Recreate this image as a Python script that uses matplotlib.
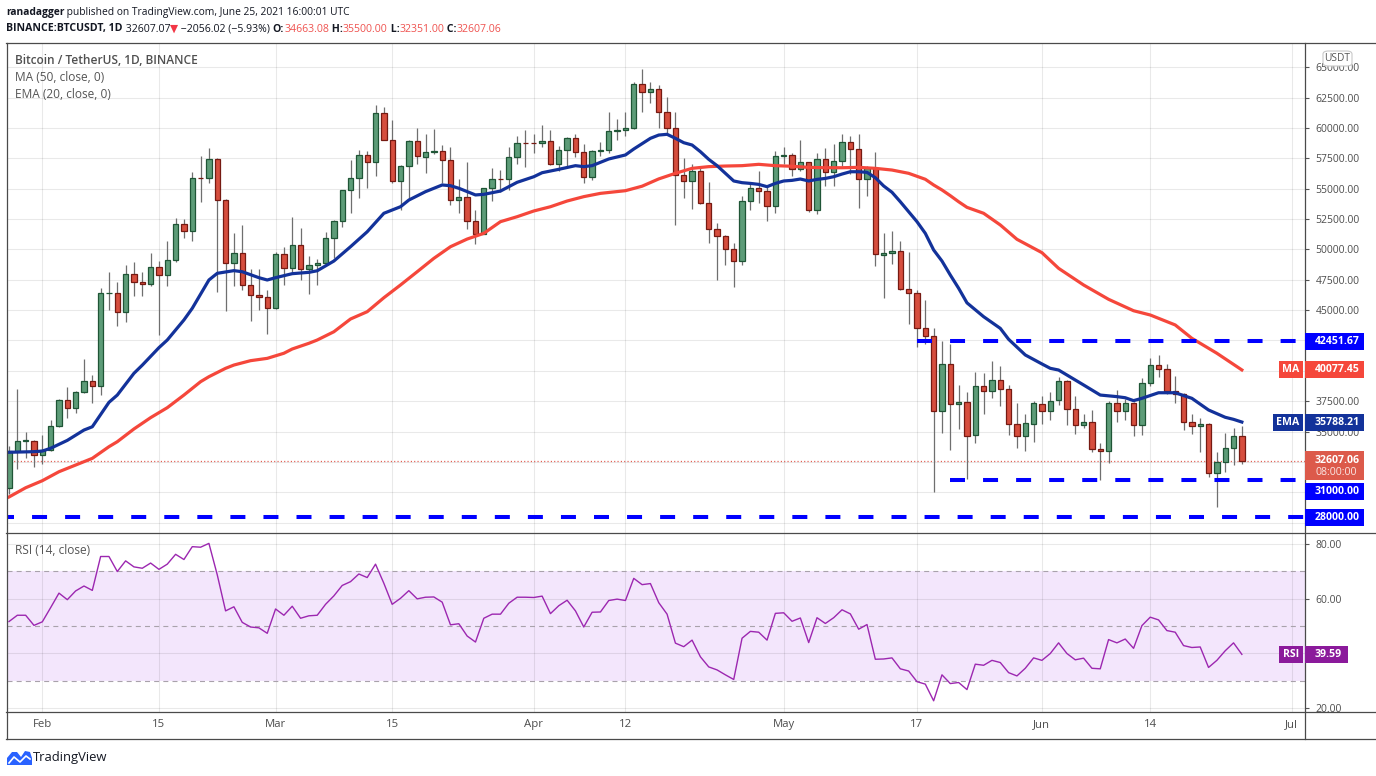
import matplotlib
matplotlib.use("Agg")
import matplotlib.pyplot as plt
import matplotlib.dates as mdates
from matplotlib.lines import Line2D
from matplotlib.patches import Rectangle, FancyBboxPatch, Polygon
import numpy as np
import pandas as pd

plt.rcParams["font.family"] = ["Open Sans", "DejaVu Sans"]
plt.rcParams["lines.scale_dashes"] = False

W, H = 1376, 776

# BINANCE:BTCUSDT daily candles
first_day = "2021-01-28"
opens = [30366, 33368, 34246, 34262, 33092, 33518, 35466, 37619, 36937, 38290,
         39181, 38795, 46374, 46421, 44807, 47969, 47298, 47156, 48580, 47911,
         49133, 52117, 51552, 55906, 55842, 57412, 54087, 48891, 49677, 47063,
         46277, 46104, 45134, 49596, 48436, 50349, 48375, 48747, 48882, 50959,
         52375, 54874, 55852, 57774, 57221, 61188, 58976, 55605, 56900, 58912,
         57641, 58031, 58101, 57352, 54083, 54343, 52304, 51293, 55026, 55818,
         55782, 57635, 58746, 58739, 58721, 58951, 57049, 58203, 59129, 57991,
         55953, 58077, 58143, 59770, 59860, 59965, 63576, 62960, 63159, 61334,
         60001, 56150, 55634, 56425, 53788, 51691, 51111, 50047, 49004, 54021,
         55034, 54824, 53555, 57697, 57797, 56578, 57169, 53200, 57436, 56393,
         57315, 58866, 58240, 55817, 56670, 49537, 49672, 49841, 46708, 46427,
         43539, 42850, 36671, 40526, 37253, 37459, 34681, 38796, 38325, 39241,
         38529, 35661, 34606, 35659, 37293, 36687, 37569, 39180, 36851, 35520,
         35797, 33557, 33380, 37388, 36677, 37331, 35546, 39021, 40516, 40143,
         38349, 38092, 35820, 35484, 35601, 31614, 32510, 33676, 34663.08]
highs = [33783, 38531, 34934, 34342, 34717, 35984, 37662, 38708, 38310, 40955,
         39700, 46794, 48142, 47310, 48678, 48985, 48150, 49707, 49010, 50690,
         52618, 52530, 56368, 57700, 58352, 57508, 54183, 51374, 52041, 48424,
         48394, 46638, 49790, 50200, 52640, 51773, 49448, 49200, 51450, 52402,
         54895, 57387, 58150, 58058, 61845, 61700, 60633, 56938, 58982, 60000,
         59468, 59880, 58591, 58430, 55830, 57200, 53229, 55073, 56700, 56559,
         58400, 59368, 59800, 59490, 60200, 59791, 58500, 59272, 59500, 58650,
         58153, 58869, 61300, 60700, 61300, 63777, 64854, 63800, 63520, 62506,
         61287, 57526, 57040, 56757, 55521, 52130, 51166, 50555, 54357, 55452,
         56428, 55200, 58075, 58458, 57911, 58981, 57200, 57963, 58360, 58650,
         59500, 59300, 59500, 56862, 58000, 51367, 51483, 50700, 49800, 46650,
         45800, 43547, 42451.67, 42200, 38856, 38270, 39920, 39791, 40841, 40411,
         38877, 37338, 36488, 37499, 37894, 38226, 39476, 39289, 37925, 36481,
         36790, 34068, 37531, 38392, 37681, 37463, 39380, 41064, 41330, 40527,
         39559, 38202, 36457, 36137, 35750, 33298, 34881, 35298, 35500.00]
lows = [29842, 31915, 32825, 32054, 32296, 33418, 35362, 36161, 36570, 38215,
        37351, 37988, 45000, 43727, 43994, 46125, 46202, 47014, 42960, 47003,
        48947, 50901, 50710, 53863, 55477, 46500, 44892, 47003, 46674, 44108,
        45000, 43000, 45115, 47047, 48100, 47500, 46300, 47070, 48882, 49274,
        51834, 53005, 54269, 55013, 56078, 58966, 55450, 53272, 54124, 57024,
        56270, 57820, 55450, 53650, 53000, 51700, 50427, 51225, 53967, 54691,
        54900, 57000, 56769, 57935, 58428, 56950, 56478, 56800, 57600, 55473,
        55700, 57654, 57900, 59000, 59350, 59869, 61301, 62020, 60000, 59581,
        52000, 54221, 53329, 53695, 50500, 47500, 48753, 46930, 48753, 53222,
        53813, 52330, 53013, 57000, 56035, 56435, 53046, 52900, 55200, 55241,
        56900, 56235, 53400, 54370, 48600, 46000, 48800, 46650, 43825, 42001,
        42250, 30000, 34850, 33488, 35200, 31111, 34031, 36419, 37800, 37134,
        34684, 33632, 33379, 34153, 35666, 35920, 37170, 35555, 34800, 35259,
        33350, 31000, 32397, 35782, 35937, 34600, 34757, 38730, 39506, 38116,
        37365, 35129, 34803, 33337, 31251, 28805, 31683, 32286, 32351.00]
closes = [33364, 34252, 34262, 33092, 33526, 35466, 37618, 36936, 38290, 39186,
          38795, 46374, 46420, 44807, 47969, 47287, 47153, 48577, 47911, 49133,
          52119, 51552, 55906, 55841, 57408, 54087, 48891, 49676, 47073, 46276,
          46106, 45135, 49587, 48440, 50349, 48374, 48751, 48882, 50971, 52376,
          54884, 55851, 57773, 57221, 61188, 58968, 55605, 56900, 58912, 57648,
          58030, 58102, 57351, 54083, 54340, 52303, 51293, 55025, 55817, 55777,
          57635, 58746, 58740, 58720, 58950, 57051, 58202, 59129, 57991, 55953,
          58077, 58142, 59769, 59860, 59964, 63576, 62959, 63159, 61334, 60006,
          56150, 55633, 56425, 53787, 51690, 51125, 50047, 49004, 54021, 55033,
          54824, 53555, 57697, 57798, 56578, 57169, 53200, 57436, 56393, 57314,
          58862, 58240, 55816, 56670, 49631, 49670, 49841, 46708, 46426, 43538,
          42850, 36690, 40526, 37252, 37449, 34655, 38796, 38324, 39241, 38529,
          35664, 34606, 35678, 37332, 36685, 37555, 39187, 36851, 35520, 35797,
          33552, 33380, 37388, 36675, 37331, 35546, 39020, 40516, 40144, 38349,
          38092, 35819, 35483, 35600, 31608, 32509, 33678, 34663, 32607.06]

# indicator values (day index -> value)
ema_days = [0, 3, 4, 5, 7, 9, 10, 12, 13, 15, 16, 18, 19, 21, 22, 24, 25, 27, 28, 30,
            31, 32, 34, 36, 37, 39, 41, 43, 45, 47, 48, 50, 52, 53, 54, 56, 57, 59, 61, 63,
            64, 66, 68, 69, 70, 72, 74, 75, 76, 77, 78, 79, 80, 81, 82, 83, 84, 85, 86, 87,
            88, 89, 90, 91, 92, 93, 94, 95, 96, 97, 98, 99, 100, 101, 102, 103, 104, 105, 106, 107,
            108, 109, 110, 111, 112, 113, 114, 115, 117, 119, 120, 122, 124, 125, 126, 128, 129, 131, 133, 134,
            135, 136, 138, 140, 142, 144, 146, 147, 148]
ema_vals = [33300, 33350, 33400, 33630, 34280, 35130, 35400, 37410, 38010, 39800,
            40470, 41910, 42540, 44190, 45150, 47480, 48030, 48250, 48160, 47670,
            47480, 47670, 48000, 48110, 48240, 49040, 50220, 51450, 52970, 53510,
            54060, 54750, 55300, 55240, 55030, 54480, 54530, 54800, 55520, 55980,
            56310, 56590, 56890, 56810, 56890, 57440, 57770, 58260, 58700, 59140,
            59410, 59470, 59140, 58780, 58590, 58040, 57410, 56890, 56260, 55630,
            55490, 55430, 55350, 55160, 55430, 55630, 55680, 55790, 55630, 55760,
            55840, 55980, 56200, 56390, 56390, 56340, 55900, 55220, 54700, 53920,
            53100, 52280, 51320, 49950, 49040, 47890, 46800, 45600, 44460, 43500,
            42600, 41310, 40570, 40210, 40070, 39250, 38840, 38010, 37880, 37790,
            37550, 37740, 38200, 38200, 37740, 36780, 36180, 36010, 35788.21]
ma_days = [0, 2, 4, 6, 8, 10, 12, 13, 15, 17, 19, 21, 23, 24, 26, 27, 29, 31, 33, 34,
           36, 37, 39, 41, 43, 45, 47, 49, 51, 53, 55, 57, 59, 61, 63, 65, 67, 69, 71, 74,
           76, 78, 80, 82, 84, 86, 88, 90, 92, 94, 96, 98, 100, 102, 104, 106, 108, 110, 111, 112,
           113, 114, 115, 117, 119, 121, 124, 126, 129, 132, 135, 137, 140, 142, 145, 148]
ma_vals = [29620, 30380, 30960, 31700, 32250, 32800, 33760, 34170, 35220, 36150,
           36970, 38010, 39110, 39520, 40210, 40480, 40840, 41030, 41450, 41800,
           42270, 42540, 43220, 44270, 44870, 46020, 47070, 48160, 49260, 50220,
           50850, 51320, 52280, 52690, 53160, 53510, 53980, 54340, 54610, 54830,
           55200, 55800, 56260, 56670, 56810, 56860, 56890, 57000, 56890, 56840,
           56750, 56720, 56720, 56750, 56670, 56530, 56260, 55770, 55300, 54890,
           54420, 53920, 53460, 52970, 52010, 50830, 49730, 48440, 47070, 45890,
           44950, 44600, 43780, 42680, 41450, 40077.45]

rsi = [51.6, 53.9, 53.9, 50.2, 51.5, 56.7, 62.0, 59.6, 62.8, 64.6,
       63.0, 75.4, 75.4, 69.9, 73.8, 71.6, 71.1, 73.0, 70.7, 72.6,
       76.2, 74.3, 79.0, 78.8, 80.2, 68.7, 55.5, 57.0, 51.3, 49.6,
       49.3, 47.3, 56.2, 53.9, 57.2, 52.8, 53.7, 53.9, 57.9, 61.0,
       64.8, 66.2, 69.0, 67.7, 72.6, 65.6, 57.9, 60.1, 62.9, 59.9,
       60.5, 60.6, 58.7, 50.4, 50.8, 46.3, 44.1, 52.8, 54.3, 54.3,
       58.3, 60.5, 60.5, 60.4, 60.9, 54.5, 57.4, 59.4, 55.5, 49.6,
       55.0, 55.1, 59.3, 59.8, 59.3, 67.4, 65.1, 65.5, 58.5, 54.3,
       43.7, 42.4, 44.8, 38.7, 35.0, 33.9, 32.1, 30.4, 45.5, 48.0,
       47.7, 44.8, 54.6, 54.8, 51.7, 52.9, 43.9, 53.0, 50.9, 53.0,
       55.9, 54.4, 48.8, 50.5, 37.8, 37.9, 38.3, 34.3, 33.5, 29.6,
       28.7, 22.6, 32.1, 28.9, 29.3, 26.7, 36.0, 35.6, 37.4, 36.6,
       32.9, 31.7, 34.5, 38.3, 37.4, 39.9, 43.8, 39.9, 37.6, 38.2,
       34.5, 34.3, 45.0, 43.8, 45.2, 41.8, 50.1, 53.2, 52.2, 48.3,
       47.7, 42.8, 42.1, 42.3, 34.8, 37.4, 40.9, 43.8, 39.59]

# horizontal levels drawn on the chart
level_prices = [42451.67, 31000.0, 28000.0]
level_from = ["2021-05-17", "2021-05-21", "2021-01-01"]

price_ticks = [27500, 30000, 32500, 35000, 37500, 40000, 42500, 45000, 47500,
               50000, 52500, 55000, 57500, 60000, 62500, 65000]
hidden_ticks = [27500, 30000, 32500, 40000, 42500]   # sit under the price tags
rsi_ticks = [20, 40, 60, 80]

tick_dates = ["2021-02-01", "2021-02-15", "2021-03-01", "2021-03-15", "2021-04-01",
              "2021-04-12", "2021-05-01", "2021-05-17", "2021-06-01", "2021-06-14", "2021-07-01"]
tick_labels = ["Feb", "15", "Mar", "15", "Apr", "12", "May", "17", "Jun", "14", "Jul"]

up_fill, up_edge = "#5d9c78", "#1f5536"
dn_fill, dn_edge = "#d64e3e", "#761a12"
ma_color = "#f5473b"
ema_color = "#13329a"
rsi_color = "#9c27b0"
level_color = "#0000ff"
axis_text = "#4d4d4d"
dark = "#131722"

o = np.array(opens, float)
h = np.array(highs, float)
l = np.array(lows, float)
c = np.array(closes, float)
dates = pd.date_range(first_day, periods=len(c), freq="D")
xd = mdates.date2num(dates)

fig = plt.figure(figsize=(W / 100, H / 100), dpi=100)


def box(x0, y0, x1, y1):
    return [x0 / W, 1 - y1 / H, (x1 - x0) / W, (y1 - y0) / H]


ax = fig.add_axes(box(7, 43, 1305, 533))
axr = fig.add_axes(box(7, 533, 1305, 712), sharex=ax)

x_left = xd[0] - 0.24
x_right = xd[0] + 155.58
ax.set_xlim(x_left, x_right)
ax.set_ylim(26656, 66986)
axr.set_ylim(18.5, 84.0)

# candles
up = c >= o
body_lo = np.minimum(o, c)
body_h = np.maximum(np.abs(c - o), 40)
ax.vlines(xd, l, h, color="#6f6f6f", lw=0.9, zorder=2)
ax.bar(xd[up], body_h[up], bottom=body_lo[up], width=0.64, color=up_fill,
       edgecolor=up_edge, linewidth=0.9, zorder=3)
ax.bar(xd[~up], body_h[~up], bottom=body_lo[~up], width=0.64, color=dn_fill,
       edgecolor=dn_edge, linewidth=0.9, zorder=3)

ax.plot(xd[ma_days], ma_vals, color=ma_color, lw=2.3, zorder=4)
ax.plot(xd[ema_days], ema_vals, color=ema_color, lw=2.3, zorder=4)

ax.axhline(c[-1], color="#e0574b", lw=0.9, ls=(0, (0.8, 1.6)), zorder=1.5)

for lvl, start in zip(level_prices, level_from):
    ax.hlines(lvl, mdates.datestr2num(start), x_right + 5, colors=level_color,
              lw=2.9, linestyles=[(0, (10.8, 13.0))], zorder=5)

# RSI pane
axr.axhspan(30, 70, color="#f3e6fc", zorder=0, lw=0)
for v in (30, 50, 70):
    axr.axhline(v, color="#a9a2ab", lw=0.8, ls=(0, (3.6, 3.0)), zorder=1)
axr.plot(xd, rsi, color=rsi_color, lw=1.0, zorder=3)

tick_x = mdates.datestr2num(tick_dates)
for a in (ax, axr):
    a.set_xticks(tick_x)
    for s in a.spines.values():
        s.set_visible(False)
    a.yaxis.tick_right()
    a.tick_params(axis="both", grid_color="black", grid_alpha=0.085, grid_linewidth=0.8)
    a.tick_params(axis="y", direction="out", length=3, width=0.8, color="#555555",
                  pad=4.5, labelsize=7.5, labelcolor=axis_text)
    a.grid(True)
    a.set_axisbelow(True)

ax.set_yticks(price_ticks)
ax.set_yticklabels(["" if v in hidden_ticks else f"{v:.2f}" for v in price_ticks])
ax.tick_params(axis="x", length=0, labelbottom=False)
axr.set_yticks(rsi_ticks)
axr.set_yticklabels(["" if v == 40 else f"{v:.2f}" for v in rsi_ticks])
axr.set_xticklabels(tick_labels)
axr.tick_params(axis="x", length=0, pad=5, labelsize=8.2, labelcolor=axis_text)


# frame
def hline(y, x0=6, x1=1375):
    fig.add_artist(Line2D([x0 / W, x1 / W], [1 - y / H, 1 - y / H], color="#4a4a4a", lw=0.9))


def vline(x, y0=43, y1=739):
    fig.add_artist(Line2D([x / W, x / W], [1 - y0 / H, 1 - y1 / H], color="#4a4a4a", lw=0.9))


for yy in (43, 533, 712, 739):
    hline(yy)
vline(6.5)
vline(1305)


# right-hand price tags
def ypx(a, v):
    return H - a.transData.transform((xd[0], v))[1]


def tag(y, text, bg, x0=1305, x1=1364, hh=17, label=None, lx0=None):
    fig.add_artist(Rectangle((x0 / W, 1 - (y + hh / 2) / H), (x1 - x0) / W, hh / H,
                             transform=fig.transFigure, facecolor=bg, lw=0, zorder=6))
    fig.text((x0 + 10) / W, 1 - y / H, text, color="white", fontsize=7.6,
             fontweight="bold", va="center", ha="left", zorder=7)
    if label:
        fig.add_artist(Rectangle((lx0 / W, 1 - (y + hh / 2) / H), (1303 - lx0) / W, hh / H,
                                 transform=fig.transFigure, facecolor=bg, lw=0, zorder=6))
        fig.text((lx0 + 1303) / 2 / W, 1 - y / H, label, color="white", fontsize=7.6,
                 fontweight="bold", va="center", ha="center", zorder=7)


tag(ypx(ax, level_prices[0]), f"{level_prices[0]:.2f}", level_color)
tag(ypx(ax, ma_vals[-1]), f"{ma_vals[-1]:.2f}", ma_color, label="MA", lx0=1279)
tag(ypx(ax, ema_vals[-1]), f"{ema_vals[-1]:.2f}", ema_color, label="EMA", lx0=1273)

yc = ypx(ax, c[-1])
fig.add_artist(Rectangle((1305 / W, 1 - (yc + 19.5) / H), 59 / W, 29 / H,
                         transform=fig.transFigure, facecolor="#dc5a4b", lw=0, zorder=6))
fig.text(1315 / W, 1 - yc / H, f"{c[-1]:.2f}", color="white", fontsize=7.6,
         fontweight="bold", va="center", ha="left", zorder=7)
fig.text(1315 / W, 1 - (yc + 12) / H, "08:00:00", color=(1, 1, 1, 0.85), fontsize=7.6,
         va="center", ha="left", zorder=7)
tag(yc + 31, f"{level_prices[1]:.2f}", level_color)
tag(ypx(ax, level_prices[2]) + 1, f"{level_prices[2]:.2f}", level_color)
tag(ypx(axr, rsi[-1]), f"{rsi[-1]:.2f}", "#8b1a9b", x1=1348, label="RSI", lx0=1279)

# USDT unit box
fig.add_artist(FancyBboxPatch((1323 / W, 1 - 66 / H), 29 / W, 15 / H,
                              boxstyle="round,pad=0,rounding_size=0.004",
                              transform=fig.transFigure, facecolor="white",
                              edgecolor="#c8c8c8", lw=0.8, zorder=6))
fig.text(1337.5 / W, 1 - 58.5 / H, "USDT", color="#555555", fontsize=7.3,
         ha="center", va="center", zorder=7)

# legends inside panes
fig.text(15 / W, 1 - 60.5 / H, "Bitcoin / TetherUS, 1D, BINANCE", fontsize=8.6,
         color="#505050", fontweight="semibold", va="center")
fig.text(15 / W, 1 - 77.5 / H, "MA (50, close, 0)", fontsize=8.6, color="#555555", va="center")
fig.text(15 / W, 1 - 95 / H, "EMA (20, close, 0)", fontsize=8.6, color="#555555", va="center")
fig.text(15 / W, 1 - 550 / H, "RSI (14, close)", fontsize=8.6, color="#555555", va="center")

# header lines
renderer = fig.canvas.get_renderer()


def run_text(x, y, parts, size):
    for s, col, wt in parts:
        t = fig.text(x / W, 1 - y / H, s, color=col, fontweight=wt, fontsize=size,
                     va="center", ha="left")
        x += t.get_window_extent(renderer).width


red = "#ef5350"
run_text(6, 13, [("ranadagger", dark, "bold"),
                 ("\u00a0published on TradingView.com, June 25, 2021 16:00:01 UTC", dark, "normal")], 7.4)
run_text(6, 29, [("BINANCE:BTCUSDT, 1D", dark, "bold"),
                 ("\u00a032607.07", dark, "normal"),
                 ("\u25bc", "#f23645", "normal"),
                 ("\u00a0\u22122056.02 (\u22125.93%)\u00a0", dark, "normal"),
                 ("O:", dark, "bold"), ("34663.08", red, "normal"),
                 ("\u00a0H:", dark, "bold"), ("35500.00", red, "normal"),
                 ("\u00a0L:", dark, "bold"), ("32351.00", red, "normal"),
                 ("\u00a0C:", dark, "bold"), ("32607.06", red, "normal")], 7.6)

# TradingView logo and name
fig.add_artist(Polygon([(7 / W, 1 - 765 / H), (7 / W, 1 - 758 / H), (12 / W, 1 - 752 / H),
                        (17 / W, 1 - 752 / H), (21 / W, 1 - 757 / H), (25 / W, 1 - 751 / H),
                        (30 / W, 1 - 752 / H), (32 / W, 1 - 758 / H), (32 / W, 1 - 765 / H)],
                       closed=True, transform=fig.transFigure, facecolor="#2962ff", lw=0))
fig.add_artist(Line2D([9 / W, 14 / W, 20 / W, 26 / W, 30 / W],
                      [1 - 763 / H, 1 - 757 / H, 1 - 762 / H, 1 - 756 / H, 1 - 759 / H],
                      color="white", lw=1.2))
fig.text(33 / W, 1 - 757 / H, "TradingView", fontsize=9.4, color=dark, va="center")

fig.savefig("out.png", dpi=100, facecolor="white")
